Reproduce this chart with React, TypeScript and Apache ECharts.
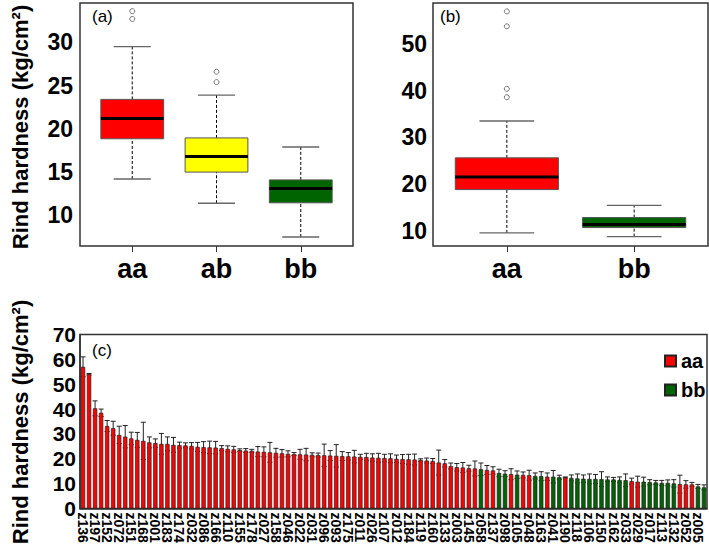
import React, { useEffect, useRef } from "react";
import * as echarts from "echarts";

// ---------- Panel (a) ----------
const catsA = ["aa", "ab", "bb"];
// [lower whisker, Q1, median, Q3, upper whisker]
const boxA = [
  [14.2, 18.85, 21.2, 23.4, 29.5],
  [11.4, 15.0, 16.8, 18.95, 23.9],
  [7.5, 11.45, 13.1, 14.1, 17.9],
];
const outA = [
  [1, 33.6],
  [1, 32.7],
  [2, 26.6],
  [2, 25.4],
];

// ---------- Panel (b) ----------
const catsB = ["aa", "bb"];
const boxB = [
  [9.5, 18.8, 21.5, 25.6, 33.5],
  [8.7, 10.65, 11.3, 12.8, 15.4],
];
const outB = [
  [1, 57.0],
  [1, 53.8],
  [1, 40.4],
  [1, 38.6],
];

const genoColors: Record<string, string> = { aa: "#FF0000", ab: "#FFFF00", bb: "#006400" };

// ---------- Panel (c) ----------
const shownLines = [
  "z136", "z197", "z152", "z072", "z151", "z168", "z001", "z183", "z174", "z032",
  "z086", "z166", "z110", "z155", "z178", "z027", "z158", "z046", "z022", "z031",
  "z096", "z093", "z175", "z011", "z026", "z107", "z012", "z184", "z119", "z160",
  "z133", "z003", "z145", "z058", "z137", "z098", "z105", "z048", "z163", "z041",
  "z190", "z118", "z106", "z150", "z162", "z033", "z029", "z017", "z113", "z132",
  "z052", "z005",
];
const hardness = [
  57.0, 54.0, 40.3, 38.5, 33.2, 32.3, 29.6, 28.9, 28.2, 27.6,
  27.2, 26.6, 26.3, 26.0, 26.0, 25.6, 25.5, 25.4, 25.2, 24.8,
  24.7, 24.6, 24.5, 24.3, 24.0, 23.8, 23.5, 23.3, 23.2, 22.9,
  22.8, 22.6, 22.4, 22.2, 22.0, 21.9, 21.8, 21.7, 21.6, 21.5,
  21.4, 21.3, 21.2, 21.1, 21.0, 20.9, 20.8, 20.7, 20.5, 20.4,
  20.3, 20.2, 20.0, 19.9, 19.8, 19.7, 19.5, 19.3, 19.1, 18.5,
  18.2, 17.1, 16.6, 16.5, 16.2, 16.1, 15.8, 15.5, 15.3, 14.3,
  14.0, 13.8, 13.6, 13.5, 13.4, 13.1, 13.0, 12.8, 12.8, 12.6,
  12.5, 12.3, 12.1, 12.0, 11.9, 11.9, 11.8, 11.7, 11.7, 11.5,
  11.4, 11.0, 10.8, 10.8, 10.6, 10.5, 10.3, 10.3, 10.1, 9.8,
  9.7, 9.7, 8.9, 8.5,
];
const hardnessErr = [
  4, 0.3, 3, 1.5, 2.2, 2.8, 3.5, 4.5, 2.5, 3,
  7.5, 2.2, 1.7, 4.2, 2.8, 3, 1.2, 1, 1.3, 1.8,
  2.2, 2.5, 2.5, 1, 1.2, 1.2, 0.5, 0.8, 0.6, 2,
  2, 4, 1.8, 1.5, 1.2, 0.6, 2, 2.5, 0.8, 0.8,
  4.5, 2, 4.5, 1.8, 1.5, 2.5, 1, 1.5, 1.5, 1.8,
  1.5, 1.8, 1.5, 1.8, 2, 2.2, 0.5, 1, 1, 5,
  1.5, 1.2, 1.5, 2, 1.2, 3, 2.5, 1.8, 1.5, 1.5,
  1.2, 2.2, 1.5, 1.2, 2, 1.2, 1.8, 1.5, 2.5, 0.8,
  0.2, 1.2, 1.8, 1.5, 2, 1.8, 3, 1, 0.8, 1.2,
  2.5, 1.2, 2.2, 1.8, 1, 0.8, 1, 1.2, 1.5, 3.6,
  1.5, 0.8, 0.8, 1,
];
// genotype of each bar, 'a' = aa, 'b' = bb
const genotypeCodes =
  "aaaaaaaaaa" + "aaaaaaaaaa" + "aaaaaaaaaa" + "aaaaaaaaaa" + "aaaaaaaaaa" +
  "aaaaaaaaaa" + "aaaaaabaab" + "babaabbabb" + "abbbbbbbbb" + "baabbbbbba" +
  "aabb";
const genotypes = genotypeCodes.split("").map((c) => (c === "a" ? "aa" : "bb"));
const yTicksA = [10, 15, 20, 25, 30];
const yTicksB = [10, 20, 30, 40, 50];

const FONT = "'Liberation Sans', Arial, Helvetica, sans-serif";

function boxRenderer(cats: string[], boxW: number, capW: number) {
  return (params: any, api: any) => {
    const x = api.value(0);
    const lo = api.value(1), q1 = api.value(2), med = api.value(3), q3 = api.value(4), hi = api.value(5);
    const pLo = api.coord([x, lo]);
    const pQ1 = api.coord([x, q1]);
    const pMed = api.coord([x, med]);
    const pQ3 = api.coord([x, q3]);
    const pHi = api.coord([x, hi]);
    const bw = api.size([boxW, 0])[0];
    const cw = api.size([capW, 0])[0];
    const cx = pMed[0];
    const fill = genoColors[cats[params.dataIndex]];
    const dash = { stroke: "#000", lineWidth: 1, lineDash: [3, 2] };
    const cap = { stroke: "#666", lineWidth: 1.3 };
    return {
      type: "group",
      children: [
        { type: "line", shape: { x1: cx, y1: pLo[1], x2: cx, y2: pQ1[1] }, style: dash },
        { type: "line", shape: { x1: cx, y1: pQ3[1], x2: cx, y2: pHi[1] }, style: dash },
        { type: "line", shape: { x1: cx - cw / 2, y1: pLo[1], x2: cx + cw / 2, y2: pLo[1] }, style: cap },
        { type: "line", shape: { x1: cx - cw / 2, y1: pHi[1], x2: cx + cw / 2, y2: pHi[1] }, style: cap },
        {
          type: "rect",
          shape: { x: cx - bw / 2, y: pQ3[1], width: bw, height: pQ1[1] - pQ3[1] },
          style: { fill, stroke: "#555", lineWidth: 1 },
        },
        { type: "line", shape: { x1: cx - bw / 2, y1: pMed[1], x2: cx + bw / 2, y2: pMed[1] }, style: { stroke: "#000", lineWidth: 3 } },
      ],
    };
  };
}

export default function App() {
  const ref = useRef<HTMLDivElement>(null);

  useEffect(() => {
    if (!ref.current) return;
    const chart = echarts.init(ref.current, undefined, { renderer: "svg" });

    const categories: string[] = [];
    for (let i = 0; i < hardness.length; i++) {
      categories.push(i % 2 === 0 ? shownLines[i / 2] : "");
    }
    const aaData = hardness.map((v, i) => (genotypes[i] === "aa" ? v : null));
    const bbData = hardness.map((v, i) => (genotypes[i] === "bb" ? v : null));
    const errData = hardness.map((v, i) => [i, v - hardnessErr[i], v + hardnessErr[i]]);

    const frameGrid = { show: true, borderColor: "#333", borderWidth: 1.5, backgroundColor: "transparent", containLabel: false };
    const tickLabel = { color: "#000", fontWeight: "bold", fontFamily: FONT };

    const option: any = {
      animation: false,
      textStyle: { fontFamily: FONT },
      grid: [
        { ...frameGrid, left: 80, top: 3, width: 273, height: 243 },
        { ...frameGrid, left: 433, top: 3, width: 275, height: 243 },
        { ...frameGrid, left: 80, top: 334.5, width: 627, height: 174 },
      ],
      xAxis: [
        {
          gridIndex: 0, type: "value", min: 0.38, max: 3.62,
          axisLine: { show: false }, splitLine: { show: false },
          axisTick: { show: true, customValues: [1, 2, 3], length: 6, lineStyle: { color: "#333" } },
          axisLabel: { ...tickLabel, fontSize: 27, margin: 9, customValues: [1, 2, 3], formatter: (v: number) => catsA[Math.round(v) - 1] },
        },
        {
          gridIndex: 1, type: "value", min: 0.42, max: 2.58,
          axisLine: { show: false }, splitLine: { show: false },
          axisTick: { show: true, customValues: [1, 2], length: 6, lineStyle: { color: "#333" } },
          axisLabel: { ...tickLabel, fontSize: 27, margin: 9, customValues: [1, 2], formatter: (v: number) => catsB[Math.round(v) - 1] },
        },
        {
          gridIndex: 2, type: "category", data: categories, boundaryGap: true,
          axisLine: { show: true, lineStyle: { color: "#333", width: 1.5 } },
          axisTick: { show: false },
          axisLabel: { ...tickLabel, fontSize: 14, interval: 0, rotate: -90, margin: 4 },
        },
      ],
      yAxis: [
        {
          gridIndex: 0, type: "value", min: 6.46, max: 34.54,
          axisLine: { show: false }, splitLine: { show: false }, axisTick: { show: false },
          axisLabel: { ...tickLabel, fontSize: 23, margin: 7, customValues: yTicksA },
        },
        {
          gridIndex: 1, type: "value", min: 6.7, max: 58.8,
          axisLine: { show: false }, splitLine: { show: false }, axisTick: { show: false },
          axisLabel: { ...tickLabel, fontSize: 23, margin: 6, customValues: yTicksB },
        },
        {
          gridIndex: 2, type: "value", min: 0, max: 70, interval: 10,
          axisLine: { show: true, lineStyle: { color: "#333", width: 1.5 } },
          splitLine: { show: false }, axisTick: { show: false },
          axisLabel: { ...tickLabel, fontSize: 21, margin: 4 },
        },
      ],
      legend: {
        data: ["aa", "bb"],
        orient: "vertical",
        left: 659, top: 346,
        itemWidth: 11, itemHeight: 11, itemGap: 9,
        icon: "rect",
        textStyle: { fontSize: 20, fontWeight: "bold", color: "#000", fontFamily: FONT },
      },
      series: [
        {
          type: "custom", xAxisIndex: 0, yAxisIndex: 0,
          renderItem: boxRenderer(catsA, 0.745, 0.44),
          encode: { x: 0, y: [1, 2, 3, 4, 5] },
          data: boxA.map((b, i) => [i + 1, ...b]),
          clip: false,
        },
        {
          type: "scatter", xAxisIndex: 0, yAxisIndex: 0, symbol: "circle", symbolSize: 5,
          itemStyle: { color: "#fff", borderColor: "#555", borderWidth: 1 },
          data: outA,
        },
        {
          type: "custom", xAxisIndex: 1, yAxisIndex: 1,
          renderItem: boxRenderer(catsB, 0.81, 0.43),
          encode: { x: 0, y: [1, 2, 3, 4, 5] },
          data: boxB.map((b, i) => [i + 1, ...b]),
          clip: false,
        },
        {
          type: "scatter", xAxisIndex: 1, yAxisIndex: 1, symbol: "circle", symbolSize: 5,
          itemStyle: { color: "#fff", borderColor: "#555", borderWidth: 1 },
          data: outB,
        },
        {
          name: "aa", type: "bar", xAxisIndex: 2, yAxisIndex: 2, data: aaData,
          barCategoryGap: "28%", barGap: "-100%",
          itemStyle: { color: genoColors.aa, borderColor: "#222", borderWidth: 0.7 },
        },
        {
          name: "bb", type: "bar", xAxisIndex: 2, yAxisIndex: 2, data: bbData,
          barCategoryGap: "28%", barGap: "-100%",
          itemStyle: { color: genoColors.bb, borderColor: "#222", borderWidth: 0.7 },
        },
        {
          type: "custom", xAxisIndex: 2, yAxisIndex: 2,
          encode: { x: 0, y: [1, 2] },
          data: errData,
          renderItem: (params: any, api: any) => {
            const i = api.value(0);
            const lo = api.coord([i, api.value(1)]);
            const hi = api.coord([i, api.value(2)]);
            const x = lo[0];
            const st = { stroke: "#222", lineWidth: 1 };
            return {
              type: "group",
              children: [
                { type: "line", shape: { x1: x, y1: lo[1], x2: x, y2: hi[1] }, style: st },
                { type: "line", shape: { x1: x - 2.5, y1: lo[1], x2: x + 2.5, y2: lo[1] }, style: st },
                { type: "line", shape: { x1: x - 2.5, y1: hi[1], x2: x + 2.5, y2: hi[1] }, style: st },
              ],
            };
          },
        },
      ],
      graphic: [
        { type: "text", x: 92, y: 8, style: { text: "(a)", fontSize: 17, fill: "#000", fontFamily: FONT } },
        { type: "text", x: 440, y: 8, style: { text: "(b)", fontSize: 17, fill: "#000", fontFamily: FONT } },
        { type: "text", x: 92, y: 342, style: { text: "(c)", fontSize: 17, fill: "#000", fontFamily: FONT } },
        {
          type: "text", x: 20, y: 127, rotation: Math.PI / 2,
          style: { text: "Rind hardness (kg/cm²)", fontSize: 22, fontWeight: "bold", fill: "#000", fontFamily: FONT, align: "center", verticalAlign: "middle" },
        },
        {
          type: "text", x: 20, y: 422, rotation: Math.PI / 2,
          style: { text: "Rind hardness (kg/cm²)", fontSize: 22, fontWeight: "bold", fill: "#000", fontFamily: FONT, align: "center", verticalAlign: "middle" },
        },
      ],
    };

    chart.setOption(option);
    return () => chart.dispose();
  }, []);

  return (
    <div
      ref={ref}
      style={{ position: "fixed", left: 0, top: 0, width: 709, height: 550, background: "#fff" }}
    />
  );
}
